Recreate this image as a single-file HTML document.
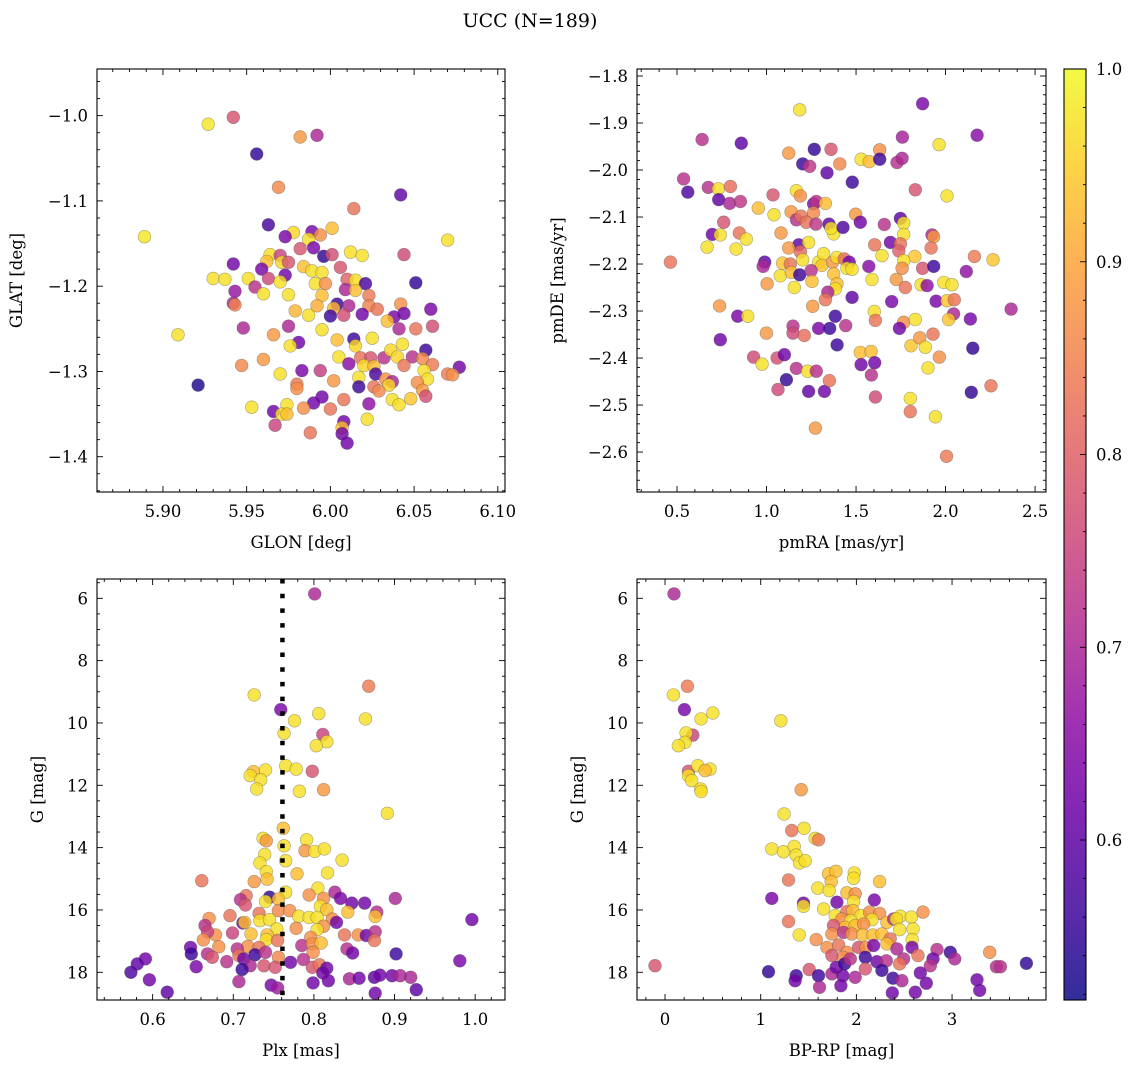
<!DOCTYPE html>
<html><head><meta charset="utf-8"><style>
body{margin:0;background:#fff}
svg{display:block;font-family:"DejaVu Serif","Liberation Serif",serif}
</style></head><body>
<svg id="fig" width="1136" height="1068" viewBox="0 0 1136 1068" xmlns="http://www.w3.org/2000/svg">
<rect width="1136" height="1068" fill="#fff"/>
<text x="530" y="27" font-size="19" text-anchor="middle">UCC (N=189)</text>
</svg>
<script>
// ---------- Panel 1: GLON vs GLAT ----------
const p1Glon=[5.927,5.942,5.982,5.992,5.956,5.969,6.042,6.014,5.889,6.070,5.963,5.978,5.973,5.989,5.994,6.001,5.987,5.982,5.990,5.996,6.001,6.012,6.019,6.044,5.964,5.970,5.942,5.962,5.971,5.959,5.975,5.984,5.989,5.995,6.006,5.973,5.963,5.970,5.930,5.937,5.951,5.991,5.997,6.010,6.015,6.021,6.051,5.943,5.955,5.960,5.975,5.995,6.009,6.015,6.023,5.942,5.943,5.979,5.992,6.004,6.002,6.011,6.023,6.028,6.042,6.060,5.987,6.000,6.008,6.019,6.038,6.044,6.034,5.948,5.975,5.995,6.041,6.051,6.061,5.909,5.966,5.981,5.976,6.004,6.014,6.015,6.025,6.043,6.057,5.947,5.960,6.005,6.011,6.018,6.024,6.032,6.036,6.040,6.049,6.055,6.061,6.020,6.026,6.044,6.077,6.070,6.073,6.056,6.058,5.921,5.970,5.983,5.994,6.002,6.017,6.027,6.033,6.037,6.035,5.980,5.980,6.017,6.026,6.029,6.052,6.055,6.057,6.048,6.037,6.041,6.008,5.995,5.990,6.000,5.984,6.023,5.953,5.966,5.974,5.971,5.974,5.967,5.988,6.008,6.007,6.007,6.010,6.022];
const p1Glat=[-1.010,-1.002,-1.025,-1.023,-1.045,-1.084,-1.093,-1.109,-1.142,-1.146,-1.128,-1.137,-1.142,-1.136,-1.140,-1.132,-1.145,-1.156,-1.155,-1.165,-1.163,-1.160,-1.164,-1.163,-1.163,-1.164,-1.174,-1.171,-1.172,-1.180,-1.172,-1.177,-1.182,-1.184,-1.178,-1.187,-1.191,-1.195,-1.191,-1.192,-1.191,-1.197,-1.197,-1.192,-1.193,-1.197,-1.196,-1.206,-1.201,-1.209,-1.210,-1.211,-1.204,-1.205,-1.211,-1.220,-1.222,-1.229,-1.223,-1.221,-1.226,-1.223,-1.223,-1.227,-1.221,-1.227,-1.234,-1.235,-1.234,-1.233,-1.236,-1.232,-1.241,-1.249,-1.247,-1.251,-1.250,-1.250,-1.247,-1.257,-1.257,-1.266,-1.270,-1.263,-1.262,-1.270,-1.261,-1.268,-1.275,-1.293,-1.286,-1.283,-1.291,-1.284,-1.284,-1.284,-1.275,-1.283,-1.283,-1.285,-1.292,-1.293,-1.294,-1.293,-1.295,-1.303,-1.304,-1.299,-1.309,-1.316,-1.303,-1.299,-1.299,-1.311,-1.307,-1.303,-1.309,-1.312,-1.316,-1.315,-1.320,-1.318,-1.318,-1.323,-1.313,-1.322,-1.329,-1.332,-1.333,-1.339,-1.333,-1.330,-1.337,-1.344,-1.343,-1.338,-1.342,-1.347,-1.339,-1.350,-1.350,-1.363,-1.372,-1.359,-1.366,-1.373,-1.384,-1.356];
const p1Prob=[0.98,0.78,0.88,0.70,0.55,0.86,0.60,0.83,0.98,0.97,0.57,0.96,0.63,0.63,0.87,0.93,0.97,0.78,0.63,0.55,0.77,0.97,0.97,0.76,0.97,0.75,0.62,0.93,0.96,0.63,0.78,0.93,0.97,0.97,0.78,0.62,0.76,0.97,0.97,0.97,0.97,0.97,0.87,0.80,0.97,0.57,0.55,0.67,0.72,0.97,0.97,0.93,0.70,0.93,0.84,0.70,0.85,0.92,0.91,0.56,0.92,0.70,0.85,0.83,0.87,0.63,0.97,0.56,0.77,0.62,0.63,0.62,0.93,0.70,0.70,0.97,0.70,0.83,0.77,0.97,0.88,0.62,0.97,0.93,0.56,0.96,0.97,0.97,0.56,0.86,0.88,0.97,0.65,0.83,0.78,0.72,0.96,0.96,0.72,0.86,0.84,0.96,0.93,0.83,0.62,0.84,0.87,0.97,0.97,0.53,0.97,0.63,0.74,0.88,0.97,0.57,0.87,0.70,0.96,0.84,0.87,0.56,0.83,0.86,0.87,0.88,0.77,0.94,0.97,0.97,0.83,0.62,0.62,0.83,0.87,0.66,0.97,0.62,0.97,0.97,0.93,0.75,0.83,0.62,0.93,0.62,0.62,0.97];
const p1XTicks=["5.90","5.95","6.00","6.05","6.10"];
const p1YTicks=["−1.0","−1.1","−1.2","−1.3","−1.4"];

// ---------- Panel 2: pmRA vs pmDE ----------
const p2Pmra=[1.185,1.872,0.640,0.859,1.759,2.176,1.964,1.124,1.267,1.360,1.632,1.528,1.574,1.632,1.729,1.757,1.202,1.241,1.409,1.338,1.479,0.537,0.560,0.675,0.731,0.798,0.733,0.794,0.854,1.036,1.167,1.189,1.263,1.278,1.329,1.263,1.831,2.008,0.954,1.042,1.137,1.167,1.193,1.222,1.276,1.498,1.524,1.349,1.375,1.360,1.427,1.658,1.748,1.766,1.766,0.761,0.697,0.742,0.848,0.887,0.668,0.830,1.081,1.180,1.235,1.124,1.189,1.202,1.692,1.748,1.604,1.739,1.645,1.828,1.924,1.933,1.919,2.161,2.265,0.463,0.990,0.981,1.090,1.133,1.291,1.319,1.310,1.369,1.393,1.434,1.462,1.449,1.478,1.571,1.766,1.757,1.872,1.934,2.116,1.077,1.139,1.185,1.249,1.254,1.375,1.393,1.384,1.342,1.003,1.155,1.589,1.725,1.775,1.863,1.897,1.990,2.036,1.329,1.478,1.699,1.947,2.008,2.049,0.738,1.258,2.366,0.839,0.895,1.384,1.602,1.608,2.045,2.017,2.139,1.766,1.831,1.742,1.291,1.353,1.442,1.148,1.148,1.211,0.999,0.742,1.394,1.807,1.856,1.887,1.930,0.928,0.975,1.059,1.100,1.524,1.584,1.528,1.604,1.586,1.965,1.902,1.167,1.230,1.278,1.111,1.064,1.235,1.323,1.351,1.608,2.144,2.254,1.803,1.803,1.943,1.273,2.005,2.152];
const p2Pmde=[-1.872,-1.859,-1.935,-1.943,-1.930,-1.926,-1.946,-1.964,-1.956,-1.956,-1.957,-1.977,-1.982,-1.977,-1.984,-1.975,-1.987,-1.992,-1.987,-2.006,-2.026,-2.019,-2.047,-2.037,-2.040,-2.035,-2.063,-2.071,-2.067,-2.053,-2.044,-2.055,-2.072,-2.067,-2.071,-2.091,-2.042,-2.055,-2.081,-2.095,-2.089,-2.106,-2.098,-2.111,-2.115,-2.094,-2.111,-2.115,-2.136,-2.124,-2.122,-2.116,-2.103,-2.113,-2.137,-2.111,-2.137,-2.138,-2.134,-2.147,-2.164,-2.168,-2.134,-2.159,-2.154,-2.166,-2.174,-2.191,-2.154,-2.157,-2.159,-2.172,-2.182,-2.184,-2.138,-2.142,-2.166,-2.184,-2.191,-2.196,-2.196,-2.205,-2.198,-2.200,-2.196,-2.178,-2.203,-2.196,-2.186,-2.189,-2.196,-2.209,-2.211,-2.205,-2.193,-2.209,-2.209,-2.205,-2.216,-2.225,-2.218,-2.223,-2.214,-2.237,-2.221,-2.242,-2.253,-2.260,-2.242,-2.250,-2.233,-2.233,-2.250,-2.244,-2.246,-2.239,-2.244,-2.276,-2.271,-2.280,-2.279,-2.278,-2.276,-2.289,-2.290,-2.296,-2.311,-2.311,-2.311,-2.301,-2.320,-2.306,-2.318,-2.317,-2.324,-2.318,-2.337,-2.337,-2.337,-2.331,-2.332,-2.347,-2.352,-2.347,-2.361,-2.372,-2.374,-2.357,-2.377,-2.349,-2.398,-2.413,-2.400,-2.393,-2.388,-2.386,-2.414,-2.410,-2.436,-2.398,-2.421,-2.422,-2.428,-2.428,-2.446,-2.467,-2.471,-2.471,-2.448,-2.483,-2.473,-2.459,-2.486,-2.514,-2.525,-2.549,-2.609,-2.379];
const p2Prob=[0.97,0.63,0.72,0.60,0.69,0.65,0.97,0.88,0.55,0.78,0.87,0.97,0.93,0.56,0.72,0.70,0.56,0.73,0.86,0.60,0.56,0.72,0.58,0.72,0.97,0.82,0.60,0.70,0.73,0.78,0.97,0.87,0.64,0.72,0.93,0.86,0.78,0.97,0.93,0.97,0.88,0.72,0.83,0.83,0.73,0.88,0.62,0.60,0.97,0.97,0.58,0.72,0.60,0.97,0.97,0.78,0.62,0.97,0.83,0.97,0.97,0.97,0.88,0.60,0.97,0.88,0.82,0.97,0.62,0.83,0.83,0.80,0.97,0.94,0.70,0.88,0.83,0.84,0.94,0.83,0.60,0.70,0.94,0.83,0.97,0.97,0.94,0.88,0.97,0.82,0.62,0.97,0.97,0.65,0.97,0.87,0.78,0.56,0.66,0.97,0.93,0.56,0.72,0.93,0.93,0.93,0.97,0.70,0.88,0.97,0.97,0.88,0.83,0.97,0.66,0.97,0.97,0.83,0.60,0.63,0.63,0.94,0.83,0.88,0.88,0.70,0.63,0.97,0.56,0.97,0.83,0.70,0.94,0.63,0.87,0.97,0.62,0.63,0.56,0.72,0.72,0.76,0.82,0.88,0.62,0.56,0.94,0.88,0.97,0.83,0.76,0.97,0.77,0.62,0.93,0.93,0.62,0.62,0.72,0.87,0.97,0.72,0.97,0.72,0.55,0.76,0.60,0.62,0.83,0.76,0.55,0.83,0.97,0.83,0.97,0.88,0.84,0.55];
const p2XTicks=["0.5","1.0","1.5","2.0","2.5"];
const p2YTicks=["−1.8","−1.9","−2.0","−2.1","−2.2","−2.3","−2.4","−2.5","−2.6"];

// ---------- Panel 3: Plx vs G ----------
const p3Plx=[0.801,0.868,0.726,0.759,0.806,0.864,0.776,0.763,0.811,0.816,0.803,0.725,0.740,0.721,0.734,0.729,0.765,0.778,0.798,0.782,0.812,0.891,0.762,0.737,0.741,0.791,0.789,0.801,0.813,0.763,0.739,0.733,0.765,0.835,0.741,0.742,0.726,0.779,0.817,0.661,0.805,0.765,0.745,0.756,0.716,0.709,0.715,0.794,0.812,0.826,0.833,0.847,0.863,0.901,0.740,0.808,0.816,0.732,0.756,0.770,0.670,0.696,0.781,0.794,0.804,0.823,0.828,0.842,0.878,0.876,0.996,0.733,0.745,0.712,0.714,0.665,0.778,0.754,0.812,0.804,0.678,0.668,0.699,0.722,0.742,0.741,0.796,0.838,0.855,0.865,0.876,0.875,0.663,0.682,0.718,0.732,0.755,0.785,0.798,0.809,0.647,0.648,0.668,0.674,0.705,0.707,0.727,0.740,0.756,0.799,0.841,0.848,0.902,0.981,0.591,0.581,0.573,0.596,0.618,0.654,0.692,0.713,0.721,0.711,0.738,0.752,0.771,0.787,0.798,0.807,0.816,0.811,0.707,0.747,0.755,0.799,0.818,0.844,0.856,0.875,0.882,0.897,0.907,0.920,0.876,0.927];
const p3G=[5.86,8.82,9.10,9.57,9.70,9.87,9.93,10.33,10.37,10.60,10.73,11.56,11.51,11.69,11.82,12.12,11.37,11.48,11.55,12.19,12.14,12.90,13.38,13.70,13.78,13.75,14.10,14.12,14.04,13.94,14.22,14.49,14.42,14.40,14.77,15.01,15.09,14.84,14.81,15.06,15.30,15.43,15.59,15.65,15.54,15.67,15.84,15.52,15.63,15.43,15.63,15.78,15.78,15.63,15.73,15.88,15.99,16.11,16.02,16.02,16.27,16.18,16.20,16.24,16.24,16.29,16.40,16.07,16.07,16.21,16.31,16.34,16.31,16.42,16.40,16.50,16.59,16.61,16.52,16.63,16.80,16.70,16.74,16.77,16.80,16.95,16.88,16.80,16.80,16.82,16.70,16.98,16.96,17.18,17.17,17.20,16.98,17.14,17.09,17.06,17.20,17.41,17.41,17.52,17.25,17.46,17.44,17.36,17.52,17.36,17.25,17.38,17.41,17.63,17.57,17.73,18.00,18.24,18.64,17.82,17.66,17.57,17.79,17.91,17.79,17.84,17.68,17.59,17.84,17.76,17.87,18.02,18.30,18.41,18.50,18.34,18.27,18.21,18.19,18.16,18.09,18.11,18.11,18.16,18.67,18.56];
const p3Prob=[0.70,0.84,0.97,0.63,0.97,0.97,0.97,0.97,0.75,0.97,0.97,0.93,0.97,0.97,0.97,0.97,0.97,0.97,0.78,0.97,0.88,0.97,0.93,0.97,0.88,0.97,0.88,0.97,0.97,0.97,0.97,0.97,0.97,0.97,0.97,0.93,0.88,0.93,0.97,0.83,0.97,0.97,0.55,0.93,0.83,0.72,0.78,0.87,0.87,0.70,0.63,0.62,0.62,0.70,0.97,0.97,0.93,0.83,0.86,0.87,0.87,0.83,0.97,0.97,0.97,0.87,0.62,0.93,0.72,0.93,0.62,0.97,0.97,0.62,0.93,0.72,0.87,0.97,0.87,0.97,0.87,0.75,0.75,0.93,0.93,0.97,0.87,0.83,0.87,0.62,0.72,0.83,0.87,0.87,0.87,0.83,0.83,0.72,0.87,0.93,0.62,0.56,0.72,0.78,0.72,0.83,0.56,0.72,0.86,0.87,0.72,0.62,0.56,0.63,0.62,0.60,0.58,0.62,0.60,0.63,0.72,0.62,0.70,0.56,0.78,0.78,0.62,0.72,0.78,0.83,0.62,0.62,0.70,0.63,0.68,0.62,0.62,0.70,0.62,0.60,0.62,0.62,0.70,0.70,0.62,0.60];
const p3XTicks=["0.6","0.7","0.8","0.9","1.0"];
const p3YTicks=["6","8","10","12","14","16","18"];
const plxMedian=[0.761];

// ---------- Panel 4: BP-RP vs G ----------
const p4Bprp=[0.094,0.234,0.087,0.202,0.377,0.499,1.210,0.290,0.220,0.209,0.140,0.244,0.342,0.471,0.419,0.244,0.279,0.373,0.377,1.423,1.245,1.325,1.454,1.570,1.604,1.116,1.238,1.350,1.371,1.406,1.465,1.291,1.116,1.447,1.447,1.291,1.402,1.709,1.786,1.737,1.978,1.971,2.243,1.597,1.716,1.796,1.901,1.988,1.971,2.187,1.657,1.779,1.901,1.964,2.047,2.138,2.243,2.163,1.848,1.943,1.883,1.988,2.075,2.319,2.389,2.459,2.417,2.574,2.696,2.592,2.452,2.583,1.761,1.744,1.866,1.953,2.065,2.173,2.267,2.354,2.319,1.580,1.692,1.814,1.901,1.859,2.023,2.100,2.180,2.093,2.215,2.313,2.424,2.494,2.581,2.644,2.843,2.801,2.773,2.982,3.028,3.394,3.464,3.505,3.777,-0.105,1.081,1.371,1.360,1.507,1.604,1.615,1.744,1.789,1.859,1.838,1.877,1.988,2.093,2.267,2.382,2.476,2.375,2.616,2.668,2.731,2.452,3.261,3.289,1.744,1.936];
const p4G=[5.86,8.82,9.10,9.57,9.87,9.68,9.93,10.39,10.32,10.62,10.73,11.55,11.37,11.48,11.53,11.69,11.85,12.12,12.20,12.14,12.92,13.45,13.38,13.70,13.75,14.04,14.13,13.96,14.24,14.49,14.42,15.04,15.63,15.78,15.88,16.37,16.80,14.84,14.76,15.09,14.81,14.98,15.09,15.30,15.38,15.75,15.45,15.48,15.73,15.68,15.97,16.18,16.05,16.02,16.18,16.07,16.11,16.31,16.29,16.34,16.56,16.50,16.45,16.40,16.29,16.20,16.29,16.23,16.07,16.61,16.63,16.95,16.50,16.77,16.72,16.77,16.80,16.80,16.77,16.93,17.09,16.95,17.20,17.12,17.36,17.52,17.20,17.20,17.14,17.52,17.66,17.63,17.25,17.57,17.20,17.46,17.27,17.57,17.79,17.36,17.57,17.36,17.82,17.82,17.71,17.79,17.98,18.11,18.27,17.91,18.11,18.48,18.05,17.84,18.11,18.43,17.73,18.16,17.89,17.94,18.19,18.27,18.66,18.64,18.02,18.35,17.73,18.24,18.58,17.46,17.57];
const p4Prob=[0.70,0.84,0.97,0.63,0.97,0.97,0.97,0.75,0.97,0.97,0.97,0.78,0.97,0.97,0.93,0.97,0.97,0.97,0.97,0.88,0.97,0.83,0.97,0.97,0.84,0.97,0.97,0.97,0.97,0.97,0.97,0.83,0.63,0.62,0.97,0.83,0.97,0.93,0.93,0.93,0.97,0.97,0.93,0.97,0.97,0.62,0.93,0.87,0.97,0.63,0.97,0.97,0.83,0.93,0.97,0.87,0.87,0.97,0.87,0.97,0.93,0.93,0.87,0.93,0.72,0.97,0.97,0.97,0.87,0.97,0.97,0.97,0.78,0.87,0.72,0.87,0.93,0.93,0.93,0.83,0.93,0.87,0.87,0.83,0.87,0.87,0.78,0.87,0.63,0.56,0.62,0.72,0.70,0.72,0.63,0.83,0.72,0.62,0.72,0.56,0.70,0.87,0.72,0.72,0.55,0.78,0.55,0.56,0.62,0.78,0.56,0.70,0.70,0.62,0.62,0.62,0.56,0.70,0.78,0.56,0.56,0.70,0.62,0.62,0.62,0.62,0.83,0.62,0.62,0.78,0.72];
const p4XTicks=["0","1","2","3"];
const p4YTicks=["6","8","10","12","14","16","18"];

// ---------- Colorbar ----------
const cbTicks=["0.6","0.7","0.8","0.9","1.0"];
const probMin=0.517, probMax=1.0;

const NS="http://www.w3.org/2000/svg";
const svg=document.getElementById('fig');
function mk(tag,attrs,parent){const e=document.createElementNS(NS,tag);for(const k in attrs)e.setAttribute(k,attrs[k]);(parent||svg).appendChild(e);return e;}
const plasma=[[13,8,135],[65,4,157],[106,0,168],[143,13,164],[177,42,144],[204,71,120],[225,100,98],[242,132,75],[252,166,54],[252,206,37],[240,249,33]];
function cmap(v){let t=(v-probMin)/(probMax-probMin);t=Math.max(0,Math.min(1,t))*10;const i=Math.min(9,Math.floor(t)),f=t-i;const a=plasma[i],b=plasma[i+1];return `rgb(${Math.round(a[0]+(b[0]-a[0])*f)},${Math.round(a[1]+(b[1]-a[1])*f)},${Math.round(a[2]+(b[2]-a[2])*f)})`;}
function lin(d0,d1,r0,r1){return v=>r0+(v-d0)/(d1-d0)*(r1-r0);}

function panel(cfg){
  const g=mk('g',{});
  
  
  const sx=lin(cfg.xd[0],cfg.xd[1],cfg.x0,cfg.x1), sy=lin(cfg.yd[0],cfg.yd[1],cfg.y0,cfg.y1);
  const pts=mk('g',{},g);
  
  
  for(let i=0;i<cfg.xs.length;i++){
    const c=mk('circle',{cx:sx(cfg.xs[i]).toFixed(1),cy:sy(cfg.ys[i]).toFixed(1),r:6.4,fill:cmap(cfg.cs[i]),'fill-opacity':0.82,stroke:'rgba(70,70,70,0.45)','stroke-width':0.6},pts);
    
    
  }
  if(cfg.vline){const l=mk('line',{x1:sx(cfg.vline[0]),x2:sx(cfg.vline[0]),y1:cfg.y0,y2:cfg.y1,stroke:'#000','stroke-width':4.5,'stroke-dasharray':'4.5 10.2'},g);
    
    }
  const fr=mk('rect',{x:cfg.x0,y:cfg.y0,width:cfg.x1-cfg.x0,height:cfg.y1-cfg.y0,fill:'none',stroke:'#000','stroke-width':1.1},g);
  
  
  const tk=mk('g',{stroke:'#000','stroke-width':0.9},g);
  
  
  const xlo=Math.min(...cfg.xd),xhi=Math.max(...cfg.xd),ylo=Math.min(...cfg.yd),yhi=Math.max(...cfg.yd);
  for(let v=Math.ceil(xlo/cfg.xmin-1e-6)*cfg.xmin;v<=xhi+1e-9;v+=cfg.xmin){
    const major=Math.abs(v/cfg.xmaj-Math.round(v/cfg.xmaj))<1e-4, L=major?6:3, x=sx(v);
    mk('line',{x1:x,x2:x,y1:cfg.y1,y2:cfg.y1-L},tk);mk('line',{x1:x,x2:x,y1:cfg.y0,y2:cfg.y0+L},tk);}
  for(let v=Math.ceil(ylo/cfg.ymin-1e-6)*cfg.ymin;v<=yhi+1e-9;v+=cfg.ymin){
    const major=Math.abs(v/cfg.ymaj-Math.round(v/cfg.ymaj))<1e-4, L=major?6:3, y=sy(v);
    mk('line',{x1:cfg.x0,x2:cfg.x0+L,y1:y,y2:y},tk);mk('line',{x1:cfg.x1,x2:cfg.x1-L,y1:y,y2:y},tk);}
  cfg.xt.forEach(s=>{const v=parseFloat(s.replace('−','-'));const t=mk('text',{x:sx(v),y:cfg.y1+25,'font-size':16.5,'text-anchor':'middle'},g);t.textContent=s;
    
    });
  cfg.yt.forEach(s=>{const v=parseFloat(s.replace('−','-'));const t=mk('text',{x:cfg.x0-9,y:sy(v)+6,'font-size':16.5,'text-anchor':'end'},g);t.textContent=s;
    
    });
  const xl=mk('text',{x:(cfg.x0+cfg.x1)/2,y:cfg.y1+56,'font-size':16.5,'text-anchor':'middle'},g);xl.textContent=cfg.xl;
  
  
  const yc=(cfg.y0+cfg.y1)/2;
  const yl=mk('text',{x:cfg.ylx,y:yc,'font-size':16.5,'text-anchor':'middle',transform:`rotate(-90 ${cfg.ylx} ${yc})`},g);yl.textContent=cfg.yl;
  
  
}

panel({name:'glon-glat-panel',x0:97,x1:505,y0:69,y1:492,xd:[5.8606,6.1043],yd:[-0.9453,-1.4414],xs:p1Glon,ys:p1Glat,cs:p1Prob,xmaj:0.05,xmin:0.01,ymaj:0.1,ymin:0.02,xt:p1XTicks,yt:p1YTicks,xl:'GLON [deg]',yl:'GLAT [deg]',ylx:22});
panel({name:'pm-panel',x0:637,x1:1046,y0:69,y1:492,xd:[0.2765,2.561],yd:[-1.7851,-2.685],xs:p2Pmra,ys:p2Pmde,cs:p2Prob,xmaj:0.5,xmin:0.1,ymaj:0.1,ymin:0.02,xt:p2XTicks,yt:p2YTicks,xl:'pmRA [mas/yr]',yl:'pmDE [mas/yr]',ylx:563});
panel({name:'plx-g-panel',x0:97,x1:505,y0:579,y1:1000,xd:[0.531,1.037],yd:[5.381,18.889],xs:p3Plx,ys:p3G,cs:p3Prob,xmaj:0.1,xmin:0.02,ymaj:2,ymin:0.5,xt:p3XTicks,yt:p3YTicks,xl:'Plx [mas]',yl:'G [mag]',ylx:43,vline:plxMedian});
panel({name:'cmd-panel',x0:637,x1:1046,y0:579,y1:1000,xd:[-0.293,3.982],yd:[5.381,18.889],xs:p4Bprp,ys:p4G,cs:p4Prob,xmaj:1,xmin:0.2,ymaj:2,ymin:0.5,xt:p4XTicks,yt:p4YTicks,xl:'BP-RP [mag]',yl:'G [mag]',ylx:583});

// colorbar
(function(){
  const x0=1064,x1=1086,y0=69,y1=1000;
  const defs=mk('defs',{});const lg=mk('linearGradient',{id:'cbg',x1:0,y1:1,x2:0,y2:0},defs);
  for(let i=0;i<=10;i++){const v=probMin+(probMax-probMin)*i/10;mk('stop',{offset:i/10,'stop-color':cmap(v),'stop-opacity':0.85},lg);}
  const g=mk('g',{});
  
  
  mk('rect',{x:x0,y:y0,width:x1-x0,height:y1-y0,fill:'url(#cbg)',stroke:'#000','stroke-width':1.1},g);
  const sy=lin(probMin,probMax,y1,y0);
  for(let v=0.52;v<=1.0001;v+=0.02){const major=Math.abs(v*10-Math.round(v*10))<1e-3;const y=sy(v),L=major?6:3;
    mk('line',{x1:x1,x2:x1-L,y1:y,y2:y,stroke:'#000','stroke-width':0.9},g);}
  cbTicks.forEach(s=>{const t=mk('text',{x:x1+10,y:sy(parseFloat(s))+6,'font-size':16.5},g);t.textContent=s;
    
    });
})();
</script>
</body></html>
